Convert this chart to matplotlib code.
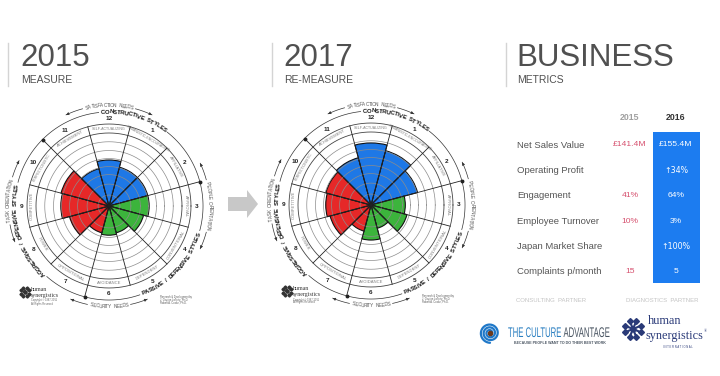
import numpy as np
import matplotlib.pyplot as plt
import matplotlib.transforms as mtransforms
from matplotlib.patches import Rectangle, Polygon, PathPatch
from matplotlib.textpath import TextPath
from matplotlib.font_manager import FontProperties, fontManager

# ---- data -------------------------------------------------------------
# circumplex segments, numbered clockwise from the top (12 = top)
segments = list(range(1, 13))
style_names = ['HUMANISTIC-ENCOURAGING', 'AFFILIATIVE', 'APPROVAL', 'CONVENTIONAL',
               'DEPENDENT', 'AVOIDANCE', 'OPPOSITIONAL', 'POWER', 'COMPETITIVE',
               'PERFECTIONISTIC', 'ACHIEVEMENT', 'SELF-ACTUALIZING']
cluster_of = ['c', 'c', 'p', 'p', 'p', 'p', 'a', 'a', 'a', 'a', 'c', 'c']
scores_2015 = [55, 55, 55, 49, 38, 40, 38, 56, 66, 68, 53, 63]
scores_2017 = [77, 66, 47, 51, 33, 48, 37, 58, 62, 64, 67, 85]
grid_rings = [15, 30, 43, 54, 65, 76, 88]

metrics = ['Net Sales Value', 'Operating Profit', 'Engagement',
           'Employee Turnover', 'Japan Market Share', 'Complaints p/month']
vals_2015 = ['£141.4M', '', '41%', '10%', '', '15']
vals_2016 = ['£155.4M', '↑34%', '64%', '3%', '↑100%', '5']

# ---- style ------------------------------------------------------------
W, H = 720, 376
SANS = ['Liberation Sans', 'DejaVu Sans']
SERIF = ['Liberation Serif', 'DejaVu Serif']
names = {f.name for f in fontManager.ttflist}
NARROW = 'Liberation Sans Narrow' if 'Liberation Sans Narrow' in names else 'Liberation Sans'
GREY = '#505050'
NAVY = '#2a3a78'
fills = {'c': '#1e78e6', 'p': '#3cb43c', 'a': '#e62828'}
PX = 0.73  # pixels per score unit on the circumplex

fig = plt.figure(figsize=(W / 100, H / 100), dpi=100)
bg = fig.add_axes([0, 0, 1, 1])
bg.set_xlim(0, W)
bg.set_ylim(H, 0)
bg.axis('off')


def curved(ax, s, center, r, fs, outward=True, family='Liberation Sans', weight='normal',
           tracking=0.3, **kw):
    size_px = fs * 100 / 72
    fp = FontProperties(family=family, weight=weight)
    adv = []
    for ch in s:
        w = 0.5 * size_px if ch == ' ' else TextPath((0, 0), ch, size=size_px, prop=fp).get_extents().width
        adv.append(w + tracking)
    total = sum(adv)
    pos = np.cumsum(adv) - np.array(adv) / 2 - total / 2
    for ch, p in zip(s, pos):
        off = np.rad2deg(p / (r * PX))
        a = center - off if outward else center + off
        rot = a - 90 if outward else a + 90
        ax.text(np.deg2rad(a), r, ch, rotation=rot, rotation_mode='anchor',
                ha='center', va='center', fontsize=fs, family=family, fontweight=weight, **kw)
    return np.rad2deg(total / (r * PX))


def arc(ax, a0, a1, r, arrow=False):
    t = np.deg2rad(np.linspace(a0, a1, 30))
    ax.plot(t, np.full(t.size, r), color='#333', lw=0.5)
    if arrow:
        ax.annotate('', xy=(t[-1], r), xytext=(t[-3], r),
                    arrowprops=dict(arrowstyle='-|>', color='#333', lw=0.5,
                                    mutation_scale=4, shrinkA=0, shrinkB=0))


def hs_icon(x, y, s, color):
    for k in range(8):
        a = np.deg2rad(k * 45 + 22.5)
        bg.plot([x + 0.25 * s * np.cos(a), x + s * np.cos(a)],
                [y - 0.25 * s * np.sin(a), y - s * np.sin(a)], color=color, lw=s * 0.18)
        bg.plot(x + s * np.cos(a), y - s * np.sin(a), 'D', color=color, ms=s * 0.35)
    bg.plot(x, y, 'o', color=color, ms=s * 0.4)


def squeezed(x, y, s, size, xscale, color, weight='normal'):
    tp = TextPath((0, 0), s, size=size, prop=FontProperties(family='Liberation Sans', weight=weight))
    tr = mtransforms.Affine2D().scale(xscale, -1).translate(x, y)
    bg.add_patch(PathPatch(tr.transform_path(tp), color=color, lw=0))
    return x + tp.get_extents().x1 * xscale


def circumplex(cx, cy, scores):
    R = 112
    ax = fig.add_axes([(cx - R) / W, (H - cy - R) / H, 2 * R / W, 2 * R / H], projection='polar')
    ax.set_ylim(0, R / PX)
    ax.axis('off')
    centers = 90 - 30 * np.array(segments)
    ax.bar(np.deg2rad(centers), scores, width=np.deg2rad(30),
           color=[fills[c] for c in cluster_of], edgecolor='#111', linewidth=0.8, zorder=2)
    full = np.linspace(0, 2 * np.pi, 361)
    for r in grid_rings:
        ax.plot(full, np.full(full.size, r), color='#8c8c8c', lw=0.5, zorder=3)
    for r in (100, 112.3):
        ax.plot(full, np.full(full.size, r), color='#444', lw=0.6, zorder=3)
    for b in (centers + 15) % 360:
        end = 128.8 if b in (135, 15, 255) else 112.3
        ax.plot([np.deg2rad(b)] * 2, [0, end], color='#222', lw=0.6, zorder=4)
    for b in (135, 15, 255):
        ax.plot(np.deg2rad(b), 128.8, 'o', color='#222', ms=1.8, zorder=4)

    # style names and numbers
    for k, name, a in zip(segments, style_names, centers % 360):
        rot = a - 90 if a <= 180 else a + 90
        ax.text(np.deg2rad(a), 106, name, rotation=rot, rotation_mode='anchor',
                ha='center', va='center', fontsize=2.6 if len(name) > 14 else 3.0,
                color='#808080', family=SANS)
        ax.text(np.deg2rad(a), 119.5, str(k), ha='center', va='center',
                fontsize=4.6, fontweight='bold', color='#222', family=SANS)

    # cluster names on the outer arc, with the arc broken under the text
    rc = 128.8
    for txt, c, outward, lo, hi in (('CONSTRUCTIVE STYLES', 74, True, 15, 135),
                                    ('PASSIVE / DEFENSIVE STYLES', -43, False, -105, 15),
                                    ('AGGRESSIVE / DEFENSIVE STYLES', 197, True, 135, 255)):
        span = curved(ax, txt, c, rc, 4.3, outward, family=NARROW, weight='bold',
                      tracking=0.15, color='#111')
        arc(ax, hi, c + span / 2 + 1.5, rc)
        arc(ax, lo, c - span / 2 - 1.5, rc)

    # outer needs / orientation labels with arrows
    r_out = 138
    for txt, c, outward in (('SATISFACTION NEEDS', 90, True), ('SECURITY NEEDS', -90, False),
                            ('TASK ORIENTATION', 177, True), ('PEOPLE ORIENTATION', 0, True)):
        span = curved(ax, txt, c, r_out, 3.4, outward, tracking=0.2, color='#555')
        half = span / 2 + 1.5
        arc(ax, c + half, c + half + 10, r_out, arrow=True)
        arc(ax, c - half, c - half - 10, r_out, arrow=True)

    # small logo and credits under the circumplex
    ox = cx - 109
    oy = cy - 206
    hs_icon(25 + ox, 292 + oy, 4.5, '#333')
    bg.text(31 + ox, 291 + oy, 'human', fontsize=4.2, family=SERIF, color='#333', va='baseline')
    bg.text(31 + ox, 297 + oy, 'synergistics', fontsize=4.2, family=SERIF, color='#333', va='baseline')
    bg.text(31 + ox, 301.5 + oy, 'Copyright © 1987-2011', fontsize=1.8, family=SANS, color='#666', va='baseline')
    bg.text(31 + ox, 304.5 + oy, 'All Rights Reserved', fontsize=1.8, family=SANS, color='#666', va='baseline')
    for i, line in enumerate(['Research & Development by', 'J. Clayton Lafferty, Ph.D.', 'Robert A. Cooke, Ph.D.']):
        bg.text(160 + ox, 298 + oy + 2.6 * i, line, fontsize=1.8, family=SANS, color='#555', va='baseline')


# ---- headings ---------------------------------------------------------
for big, small, x, lx in (('2015', 'MEASURE', 20, 8), ('2017', 'RE-MEASURE', 283, 272),
                          ('BUSINESS', 'METRICS', 516, 506)):
    bg.plot([lx, lx], [43, 86], color='#d4d4d4', lw=1)
    bg.text(x, 66, big, fontsize=22.5, color=GREY, family=SANS, va='baseline')
    bg.text(x + 1, 83, small, fontsize=7.5, color=GREY, family=SANS, va='baseline')

circumplex(109, 206, scores_2015)
circumplex(371, 205, scores_2017)

# arrow between the two circumplexes
bg.add_patch(Polygon([(228, 197), (247, 197), (247, 190), (258, 204), (247, 218),
                      (247, 211), (228, 211)], closed=True, color='#c8c8c8', lw=0))

# ---- business metrics table ------------------------------------------
row_y = 145 + 25.35 * np.arange(len(metrics))
bg.add_patch(Rectangle((653, 132), 47, 151, color='#1c7cf0', lw=0))
bg.text(630, 118, '2015', fontsize=6.3, fontweight='bold', color='#a0a0a0', family=SANS, ha='center', va='center')
bg.text(676, 118, '2016', fontsize=6.3, fontweight='bold', color='#333', family=SANS, ha='center', va='center')
for y, m, a, b in zip(row_y, metrics, vals_2015, vals_2016):
    bg.text(517, y, m, fontsize=6.8, color='#555', family=SANS, va='center')
    bg.text(630, y, a, fontsize=6.1, color='#d6506e', family=SANS, ha='center', va='center')
    fam = ['DejaVu Sans'] if '↑' in b else SANS
    bg.text(676, y, b, fontsize=5.7 if '↑' in b else 6.1, color='white', family=fam,
            ha='center', va='center')

# ---- partner logos ----------------------------------------------------
bg.text(551, 301, 'CONSULTING  PARTNER', fontsize=4.3, color='#c4c4c4', family=SANS, ha='center', va='center')
bg.text(662, 300, 'DIAGNOSTICS  PARTNER', fontsize=4.3, color='#c4c4c4', family=SANS, ha='center', va='center')

t = np.linspace(0, 5.5 * np.pi, 300)
rr = 2.2 + 7.6 * t / t[-1]
bg.plot(490 + rr * np.cos(t), 333 - rr * np.sin(t), color='#1f78c8', lw=1.6, solid_capstyle='round')
bg.plot(490, 333, 'o', color='#6b3a1e', ms=3)
xe = squeezed(508, 337, 'THE CULTURE', 14, 0.55, '#2a7fc1')
squeezed(xe + 2.5, 337, 'ADVANTAGE', 14, 0.55, '#4a5562')
bg.text(560, 342.5, 'BECAUSE PEOPLE WANT TO DO THEIR BEST WORK', fontsize=2.6, fontweight='bold',
        color='#4a5562', family=SANS, ha='center', va='center')

hs_icon(633, 329, 8.5, NAVY)
bg.text(648, 324, 'human', fontsize=8.8, family=SERIF, color=NAVY, va='baseline')
hs_word = bg.text(645, 338.5, 'synergistics', fontsize=8.8, family=SERIF, color=NAVY, va='baseline')
fig.canvas.draw()
x_end = bg.transData.inverted().transform(hs_word.get_window_extent().corners()[-1])[0]
bg.text(x_end + 0.5, 332, '®', fontsize=3, family=SERIF, color=NAVY, va='baseline')
bg.text(678, 347, 'I N T E R N A T I O N A L', fontsize=1.9, family=SANS, color=NAVY, ha='center', va='center')

fig.savefig('out.png', dpi=100)
